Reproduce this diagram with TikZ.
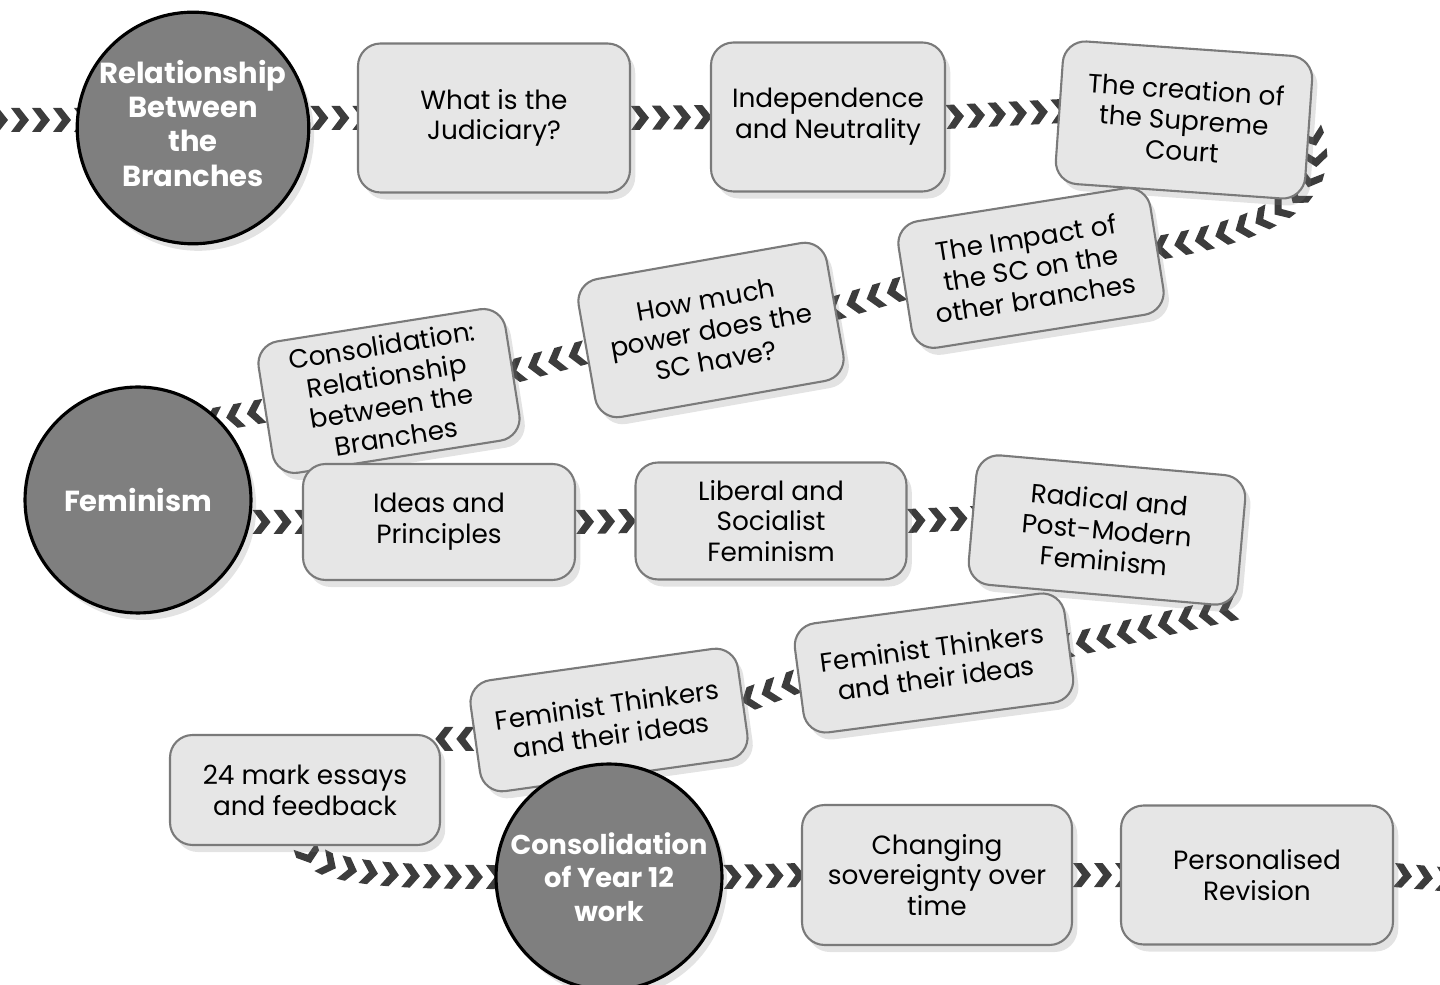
\documentclass[tikz,border=0pt]{standalone}
\usepackage{fontspec}
\setmainfont{Poppins}
\usetikzlibrary{calc,positioning,shadows,decorations.markings}
\pgfdeclarelayer{background}
\pgfsetlayers{background,main}
\definecolor{boxfill}{HTML}{E6E6E6}
\definecolor{boxline}{HTML}{7A7A7A}
\definecolor{hubfill}{HTML}{7F7F7F}
\definecolor{chev}{HTML}{3C3C3C}
\tikzset{
roadmap/.style={
x=0.02cm, y=0.02cm,
font=\fontsize{15}{17.5}\selectfont,},
topic/.style={draw=boxline, line width=1.2pt, fill=boxfill, rounded corners=0.45cm,
  align=center, inner sep=0pt,
  drop shadow={opacity=0.22, shadow xshift=3pt, shadow yshift=-4pt}},
hub/.style={circle, draw=black, line width=1.8pt, fill=hubfill, text=white,
  align=center, inner sep=0pt, minimum size=4.52cm,
  font=\fontsize{16.5}{19.5}\selectfont\bfseries,
  drop shadow={opacity=0.22, shadow xshift=3pt, shadow yshift=-4pt}},
chevrons/.style={decoration={markings,
  mark=between positions 0 and 1 step 0.42cm with
  {\fill[chev] (0,12) -- (8.5,12) -- (18,0) -- (8.5,-12) -- (0,-12) -- (9,0) -- cycle;}},
  decorate},
}

\begin{document}
\begin{tikzpicture}[roadmap]
\useasboundingbox (0,0) rectangle (1440,984);
% row 1
\node[hub] (c1) at (193,856) {\raisebox{5pt}{\begin{tabular}{@{}c@{}}Relationship\\Between\\the\\Branches\end{tabular}}};
\node[topic, minimum width=5.44cm, minimum height=2.98cm] (q1) at (494,866) {What is the\\Judiciary?};
\node[topic, minimum width=4.68cm, minimum height=2.98cm] (ind) at (828,867) {Independence\\and Neutrality};
\node[topic, minimum width=5cm, minimum height=2.86cm, rotate=-4] (crt) at (1184,864) {The creation of\\the Supreme\\Court};
% row 2
\node[topic, minimum width=5.1cm, minimum height=2.56cm, rotate=9] (imp) at (1031,716) {The Impact of\\the SC on the\\other branches};
\node[topic, minimum width=5.04cm, minimum height=2.8cm, rotate=10] (how) at (711,654) {How much\\power does the\\SC have?};
\node[topic, minimum width=5cm, minimum height=2.66cm, rotate=9] (cons) at (389,593) {Consolidation:\\Relationship\\between the\\Branches};
% row 3
\node[hub] (fem) at (138,484) {Feminism};
\node[topic, minimum width=5.44cm, minimum height=2.32cm] (idp) at (439,462) {Ideas and\\Principles};
\node[topic, minimum width=5.42cm, minimum height=2.34cm] (lib) at (771,463) {Liberal and\\Socialist\\Feminism};
\node[topic, minimum width=5.4cm, minimum height=2.6cm, rotate=-5] (rad) at (1107,454) {Radical and\\Post-Modern\\Feminism};
% row 4
\node[topic, minimum width=5.44cm, minimum height=2.2cm, rotate=7.5] (ft1) at (934,321) {Feminist Thinkers\\and their ideas};
\node[topic, minimum width=5.4cm, minimum height=2.24cm, rotate=8] (ft2) at (609,264) {Feminist Thinkers\\and their ideas};
\node[topic, minimum width=5.4cm, minimum height=2.2cm] (ess) at (305,194) {24 mark essays\\and feedback};
% row 5
\node[hub, font=\fontsize{15.5}{19}\selectfont\bfseries] (c3) at (609,107) {Consolidation\\of Year 12\\work};
\node[topic, minimum width=5.4cm, minimum height=2.8cm] (chg) at (937,109) {Changing\\sovereignty over\\time};
\node[topic, minimum width=5.44cm, minimum height=2.78cm] (rev) at (1257,109) {Personalised\\Revision};
\coordinate (in0) at (-10,864);
\coordinate (out0) at (1452,104);
%
\begin{pgfonlayer}{background}
\path[chevrons] (in0) -- (in0 -| c1);
\path[chevrons] (q1.west -| c1.east) -- (q1.west);
\path[chevrons] (q1.east) -- (ind.west);
\path[chevrons] (ind.east) -- (crt.west);
\path[chevrons] (crt.east) .. controls +(28,-75) and +(90,15) .. (imp.east);
\path[chevrons] (imp.west) -- (how.east);
\path[chevrons] (how.west) -- (cons.east);
\path[chevrons] (cons.west) -- (fem.north east);
\path[chevrons] (idp.west -| fem.east) -- (idp.west);
\path[chevrons] (idp.east) -- (lib.west);
\path[chevrons] (lib.east) -- (rad.west);
\path[chevrons] (rad.south east) -- (ft1.east);
\path[chevrons] (ft1.west) -- (ft2.east);
\path[chevrons] (ft2.west) -- (ft2.west -| ess.east);
\path[chevrons] (ess.south) .. controls +(10,-30) and +(-80,0) .. (c3.west);
\path[chevrons] (c3.east) -- (chg.west);
\path[chevrons] (chg.east) -- (rev.west);
\path[chevrons] (rev.east) -- (out0);
\end{pgfonlayer}
\end{tikzpicture}
\end{document}
